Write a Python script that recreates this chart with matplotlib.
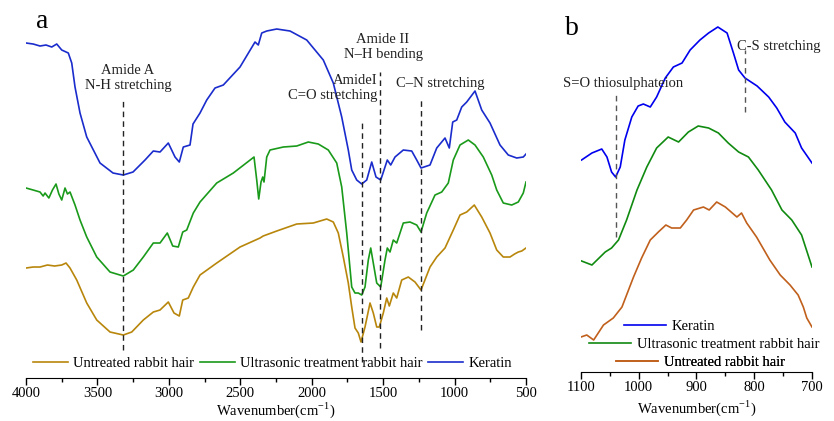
import numpy as np
import matplotlib.pyplot as plt

plt.rcParams["font.family"] = ["Liberation Serif", "DejaVu Serif"]
plt.rcParams["mathtext.fontset"] = "custom"
plt.rcParams["mathtext.rm"] = "Liberation Serif"
plt.rcParams["font.size"] = 10.5

# ---- panel a: full FTIR spectra (relative intensity, arbitrary units) ----
kera_w = [4000, 3950, 3902, 3860, 3820, 3785, 3750, 3704, 3680, 3657, 3622, 3575, 3482, 3391,
          3319, 3251, 3167, 3109, 3062, 3004, 2957, 2927, 2899, 2852, 2831, 2782, 2735,
          2677, 2619, 2502, 2397, 2374, 2350, 2315, 2245, 2152, 2035, 1919, 1849, 1790,
          1744, 1720, 1685, 1650, 1615, 1580, 1550, 1517, 1487, 1471, 1447, 1417, 1359,
          1300, 1265, 1235, 1172, 1125, 1067, 1037, 1013, 985, 950, 915, 857, 810, 752,
          682, 624, 565, 519, 500]
kera_i = [337, 336, 334, 335, 333, 336, 330, 327, 317, 293, 267, 243, 217, 207,
          205, 208, 220, 229, 228, 237, 223, 218, 233, 235, 256, 267, 280,
          292, 295, 313, 338, 335, 347, 349, 351, 349, 340, 320, 297, 263,
          230, 210, 200, 196, 200, 218, 203, 200, 213, 220, 215, 223, 230,
          229, 220, 212, 215, 232, 242, 232, 258, 260, 273, 278, 289, 270, 257,
          235, 225, 222, 223, 226]

ultra_w = [4000, 3950, 3902, 3880, 3867, 3840, 3815, 3790, 3770, 3750, 3727, 3710, 3692,
           3657, 3622, 3575, 3505, 3412, 3319, 3249, 3179, 3109, 3062, 3011, 2973, 2934,
           2903, 2875, 2829, 2782, 2665, 2549, 2404, 2385, 2371, 2355, 2343, 2334, 2315,
           2292, 2199, 2105, 2024, 1954, 1884, 1825, 1790, 1755, 1720, 1697, 1674, 1650,
           1627, 1604, 1587, 1569, 1545, 1517, 1487, 1471, 1452, 1429, 1405, 1359, 1312,
           1265, 1235, 1195, 1137, 1090, 1044, 1009, 962, 939, 904, 857, 799, 740, 705,
           659, 600, 554, 519, 500]
ultra_i = [192, 190, 188, 184, 187, 182, 190, 196, 186, 180, 192, 186, 188,
           175, 160, 143, 123, 108, 104, 110, 123, 137, 137, 147, 134, 133,
           148, 150, 167, 178, 197, 207, 223, 200, 181, 198, 203, 198, 223,
           230, 233, 234, 238, 236, 230, 217, 193, 147, 93, 87, 87, 85,
           93, 120, 132, 117, 97, 93, 120, 132, 128, 140, 137, 157, 158,
           155, 148, 167, 185, 188, 197, 220, 235, 237, 240, 235, 223, 205, 190,
           177, 175, 178, 187, 198]

untr_w = [4000, 3950, 3902, 3850, 3800, 3750, 3720, 3692, 3645, 3575, 3505, 3412, 3319,
          3260, 3179, 3109, 3062, 3004, 2964, 2927, 2903, 2864, 2829, 2782, 2665, 2502,
          2362, 2340, 2245, 2105, 1989, 1895, 1849, 1814, 1779, 1744, 1720, 1697, 1674,
          1655, 1627, 1592, 1569, 1545, 1527, 1499, 1475, 1457, 1429, 1405, 1370, 1324,
          1277, 1235, 1172, 1125, 1067, 1009, 962, 915, 862, 810, 752, 705, 659, 612,
          580, 554, 530, 500]
untr_i = [112, 113, 113, 115, 114, 115, 117, 112, 100, 77, 60, 48, 45,
          48, 60, 68, 70, 78, 67, 64, 80, 82, 93, 105, 117, 133,
          142, 144, 149, 156, 157, 161, 158, 147, 123, 97, 73, 52, 47,
          38, 53, 77, 67, 53, 53, 67, 82, 74, 87, 82, 100, 103,
          98, 90, 113, 123, 132, 150, 165, 168, 175, 163, 147, 130, 123, 123,
          126, 128, 129, 132]

# ---- panel b: 1100-700 cm-1 region ----
kera_b_w = [1099, 1081, 1064, 1055, 1047, 1040, 1032, 1024, 1012, 1001, 992, 980, 969,
            954, 940, 925, 911, 894, 879, 863, 847, 836, 827, 816, 795, 775, 761, 747,
            729, 718, 700]
kera_b_i = [220, 227, 231, 223, 208, 203, 213, 240, 263, 274, 276, 273, 283,
            302, 313, 317, 330, 340, 347, 353, 347, 327, 310, 302, 294, 283, 272, 258,
            247, 232, 217]

ultra_b_w = [1099, 1081, 1058, 1047, 1035, 1021, 1003, 986, 969, 949, 931, 914, 897,
             879, 862, 845, 827, 810, 793, 770, 752, 735, 718, 700]
ultra_b_i = [119, 115, 128, 132, 140, 160, 190, 213, 232, 243, 238, 248, 254,
             252, 247, 237, 228, 223, 210, 190, 170, 160, 145, 113]

untr_b_w = [1100, 1090, 1078, 1061, 1044, 1029, 1009, 995, 980, 966, 953, 943, 928,
            917, 905, 888, 878, 865, 850, 830, 822, 813, 796, 773, 755, 738, 724, 715,
            709, 700]
untr_b_i = [43, 45, 40, 55, 62, 73, 103, 122, 140, 148, 155, 152, 152,
            160, 170, 173, 170, 178, 173, 163, 167, 157, 143, 120, 105, 95, 85, 73,
            62, 53]

fig = plt.figure(figsize=(8.34, 4.21), dpi=100)
ax1 = fig.add_axes([0.0312, 0.1021, 0.5995, 0.886])
ax2 = fig.add_axes([0.6966, 0.1164, 0.277, 0.8717])

ax1.plot(untr_w, untr_i, color="#b8860b", lw=1.2, label="Untreated rabbit hair")
ax1.plot(ultra_w, ultra_i, color="#1a9a1a", lw=1.2, label="Ultrasonic treatment rabbit hair")
ax1.plot(kera_w, kera_i, color="#1a2ccc", lw=1.2, label="Keratin")

dash = (0, (4, 3))
ax1.vlines(3320, 30, 282, color="#222222", lw=1, linestyles=dash)
ax1.vlines(1650, 18, 258, color="#222222", lw=1, linestyles=dash)
ax1.vlines(1520, 32, 308, color="#222222", lw=1, linestyles=dash)
ax1.vlines(1235, 50, 280, color="#222222", lw=1, linestyles=dash)

ax1.text(3286, 302, "Amide A\nN-H stretching", ha="center", va="center", color="#222222",
         linespacing=1.15)
ax1.text(1501, 333, "Amide II\nN\u2013H bending", ha="center", va="center", color="#222222",
         linespacing=1.15)
ax1.text(1543, 292, "AmideI\nC=O stretching", ha="right", va="center", multialignment="right",
         color="#222222", linespacing=1.15)
ax1.text(1102, 297, "C\u2013N stretching", ha="center", va="center", color="#222222")

ax1.set_xlim(4000, 500)
ax1.set_ylim(2, 375)
ax1.set_xticks(np.arange(4000, 499, -500))
ax1.set_xticks(np.arange(3750, 500, -500), minor=True)
ax1.set_xlabel(r"Wavenumber(cm$^{-1}$)", labelpad=0)
ax1.legend(loc="center", bbox_to_anchor=(0.493, 0.04), ncol=3, frameon=False,
           handlelength=2.4, handletextpad=0.35, columnspacing=0.4, borderpad=0)

ax2.plot(kera_b_w, kera_b_i, color="#0000ee", lw=1.2)
ax2.plot(ultra_b_w, ultra_b_i, color="#108a10", lw=1.2)
ax2.plot(untr_b_w, untr_b_i, color="#c0601c", lw=1.2)
ax2.vlines(1040, 143, 285, color="#555555", lw=1, linestyles=dash)
ax2.vlines(816, 268, 330, color="#555555", lw=1, linestyles=dash)
ax2.text(1027, 297, "S=O thiosulphateion", ha="center", va="center", color="#222222")
ax2.text(830, 334, "C-S stretching", ha="left", va="center", color="#222222")

ax2.set_xlim(1100, 700)
ax2.set_ylim(8, 375)
ax2.set_xticks(np.arange(1100, 699, -100))
ax2.set_xticks(np.arange(1050, 700, -100), minor=True)
ax2.set_xlabel(r"Wavenumber(cm$^{-1}$)", labelpad=3)

lines_b = ax2.get_lines()
leg_pos = [(0.186, 0.123), (0.035, 0.076), (0.152, 0.027)]
names_b = ["Keratin", "Ultrasonic treatment rabbit hair", "Untreated rabbit hair"]
for ln, pos, name in zip(lines_b, leg_pos, names_b):
    lg = ax2.legend([ln], [name], loc="center left", bbox_to_anchor=pos, frameon=False,
                    handlelength=2.9, handletextpad=0.4, borderpad=0, borderaxespad=0)
    ax2.add_artist(lg)

for ax in (ax1, ax2):
    for s in ("left", "right", "top"):
        ax.spines[s].set_visible(False)
    ax.set_yticks([])
    ax.tick_params(axis="x", which="major", direction="out", length=5, width=1, pad=1.5)
    ax.tick_params(axis="x", which="minor", direction="out", length=3, width=1)
    ax.patch.set_alpha(0)

fig.text(0.043, 0.948, "a", fontsize=20, ha="left", va="center")
fig.text(0.678, 0.933, "b", fontsize=20, ha="left", va="center")

fig.savefig("out.png", dpi=100)
